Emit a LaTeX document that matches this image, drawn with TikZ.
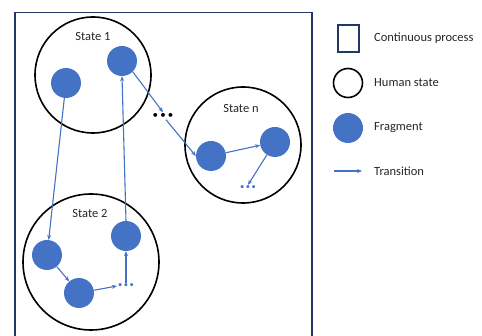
\documentclass[tikz,border=0pt]{standalone}
\usepackage{fontspec}
\setmainfont{Carlito}
\usetikzlibrary{arrows.meta}
\definecolor{navy}{HTML}{203864}
\definecolor{frag}{HTML}{4472C4}
\definecolor{ink}{HTML}{262626}
\tikzset{
  frame/.style={draw=navy, line width=1.5pt},
  hstate/.style={draw=black, line width=1.6pt, circle, inner sep=0pt},
  fragment/.style={circle, fill=frag, inner sep=0pt, minimum size=30pt},
  trans/.style={draw=frag, line width=1.1pt, -{Stealth[length=5pt,width=4pt]}},
  label/.style={text=ink, font=\fontsize{12.5}{15}\selectfont, inner sep=0pt},
  legtext/.style={label, anchor=west},
  bdots/.style={text=black, font=\fontsize{11}{11}\selectfont, inner sep=1pt},
  fdots/.style={text=frag, font=\fontsize{8.5}{9}\selectfont, inner sep=1pt},
}
\begin{document}
\begin{tikzpicture}[x=1pt,y=-1pt]
\useasboundingbox (0,0) rectangle (482,336);
\begin{scope}
\clip (0,0) rectangle (482,336);
% continuous process frame (runs past the lower edge)
\draw[frame] (15,12.5) rectangle (312,345);
\end{scope}

% human states
\node[hstate, minimum size=116pt] (s1) at (93,75) {};
\node[hstate, minimum size=116pt] (sn) at (243,145) {};
\node[hstate, minimum size=136pt] (s2) at (91,262) {};
\node[label] (l1) at (93,36) {State 1};
\node[label] (ln) at (241,108) {State n};
\node[label] (l2) at (90,213) {State 2};

% fragments
\node[fragment] (f1a) at (66,83) {};
\node[fragment] (f1b) at (122,61) {};
\node[fragment] (fn1) at (211,156) {};
\node[fragment] (fn2) at (275,142) {};
\node[fragment] (f2a) at (47,255) {};
\node[fragment] (f2b) at (79,293) {};
\node[fragment] (f2c) at (126,236) {};

% continuation marks
\node[bdots] (dk) at (163,116) {•\kern2.2pt•\kern2.2pt•};
\node[fdots] (dn) at (248,188) {•\kern1.5pt•\kern1.5pt•};
\node[fdots] (d2) at (126,286) {•\kern1.5pt•\kern1.5pt•};

% transitions
\draw[trans] (f1a) -- (f2a);
\draw[trans] (f2c.north) -- (f1b.south);
\draw[trans] (f1b.south east) -- (dk.north);
\draw[trans] ([xshift=3pt]dk.south) -- (fn1.west);
\draw[trans] (fn1) -- (fn2);
\draw[trans] (fn2) -- (dn.north);
\draw[trans] (f2a) -- (f2b);
\draw[trans] (f2b) -- (d2.west);
\draw[trans] (d2.north) -- (f2c.south);

% legend
\node[draw=navy, line width=1.5pt, minimum width=21pt, minimum height=27pt, inner sep=0pt] (kbox) at (348.5,38.5) {};
\node[legtext] (tbox) at (374,38.5) {Continuous process};
\node[hstate, minimum size=29pt] (kstate) at (348,83) {};
\node[legtext] (tstate) at (374,83) {Human state};
\node[fragment] (kfrag) at (348,128) {};
\node[legtext] (tfrag) at (374,128) {Fragment};
\coordinate (ka) at (334,171);
\coordinate (kb) at (362,171);
\draw[trans] (ka) -- (kb);
\node[legtext] (ttrans) at (374,171) {Transition};
\end{tikzpicture}
\end{document}
